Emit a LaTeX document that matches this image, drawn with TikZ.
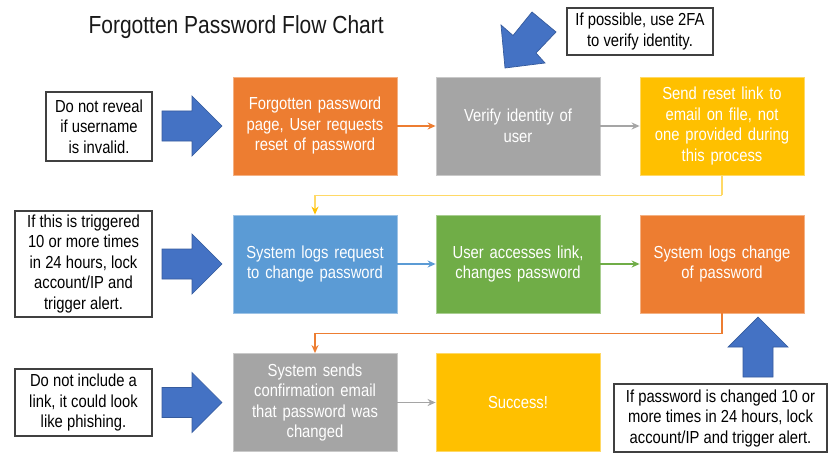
\documentclass[tikz,border=0pt]{standalone}
\usepackage{fontspec}
\setmainfont[FakeStretch=0.85]{Liberation Sans}
\usetikzlibrary{arrows.meta,calc}
\definecolor{corange}{HTML}{ED7D31}
\definecolor{cgray}{HTML}{A5A5A5}
\definecolor{cyellow}{HTML}{FFC000}
\definecolor{clyellow}{HTML}{FFD966}
\definecolor{cblue}{HTML}{5B9BD5}
\definecolor{cgreen}{HTML}{70AD47}
\definecolor{carrow}{HTML}{4472C4}
\definecolor{cnote}{HTML}{404040}
\begin{document}
\begin{tikzpicture}[x=1pt,y=-1pt,
  pbox/.style={minimum width=164pt, minimum height=98pt, inner sep=0pt, text width=156pt, align=center, text=white, font=\fontsize{17.4}{20.5}\selectfont, draw=#1!60!white, fill=#1, line width=0.8pt},
  notebox/.style={draw=cnote, fill=white, line width=1.2pt, inner sep=0pt, align=center, text=black, font=\fontsize{17.4}{20.5}\selectfont},
  conn/.style={draw=#1, line width=1.3pt, -{Stealth[length=8pt,width=7pt]}},
  bigarrow/.style={fill=carrow, draw=carrow!80!black, line width=0.7pt}]
\useasboundingbox (0,0) rectangle (839,460);

\node[anchor=base west, font=\fontsize{24.7}{28}\selectfont, text=black!90] (title) at (85,34) {Forgotten Password Flow Chart};

% process boxes
\node[pbox=corange] (b1) at (315,126) {Forgotten password\\page, User requests\\reset of password};
\node[pbox=cgray] (b2) at (518,126) {Verify identity of\\user};
\node[pbox=cyellow] (b3) at (722,126) {Send reset link to\\email on file, not\\one provided during\\this process};
\node[pbox=cblue] (b4) at (315,264) {System logs request\\to change password};
\node[pbox=cgreen] (b5) at (518,264) {User accesses link,\\changes password};
\node[pbox=corange] (b6) at (722,264) {System logs change\\of password};
\node[pbox=cgray] (b7) at (315,402.5) {System sends\\confirmation email\\that password was\\changed};
\node[pbox=cyellow] (b8) at (518,402.5) {Success!};

% connectors
\draw[conn=corange] (b1) -- (b2);
\draw[conn=cgray] (b2) -- (b3);
\draw[draw=clyellow, line width=1.3pt] (b3.south) -- ++(0,20) coordinate (j1);
\draw[conn=clyellow, arrows={-Stealth[length=8pt,width=7pt,color=cyellow]}] (j1) -| (b4.north);
\draw[conn=cblue] (b4) -- (b5);
\draw[conn=cgreen] (b5) -- (b6);
\draw[conn=corange] (b6.south) -- ++(0,20) -| (b7.north);
\draw[conn=cgray] (b7) -- (b8);

% notes
\node[notebox, minimum width=106pt, minimum height=69pt] (n1) at (99,126.5) {Do not reveal\\if username\\is invalid.};
\node[notebox, minimum width=137pt, minimum height=106pt] (n2) at (83.5,264) {If this is triggered\\10 or more times\\in 24 hours, lock\\account/IP and\\trigger alert.};
\node[notebox, minimum width=137pt, minimum height=67pt] (n3) at (83.5,402.5) {Do not include a\\link, it could look\\like phishing.};
\node[notebox, minimum width=146pt, minimum height=47pt] (n4) at (640,31.5) {If possible, use 2FA\\to verify identity.};
\node[notebox, minimum width=213pt, minimum height=68pt] (n5) at (720.5,418) {If password is changed 10 or\\more times in 24 hours, lock\\account/IP and trigger alert.};

% big block arrows
\foreach \c in {126,264,402.5}{
  \draw[bigarrow] (162,\c-15) -- (192,\c-15) -- (192,\c-30) -- (222,\c) -- (192,\c+30) -- (192,\c+15) -- (162,\c+15) -- cycle;
}
\draw[bigarrow] (743,377) -- (743,347) -- (728,347) -- (758,317) -- (788,347) -- (773,347) -- (773,377) -- cycle;
\draw[bigarrow] (532,12) -- (513,35.5) -- (501,25) -- (505,68) -- (545,63) -- (536,53) -- (556,32) -- cycle;
\end{tikzpicture}
\end{document}
